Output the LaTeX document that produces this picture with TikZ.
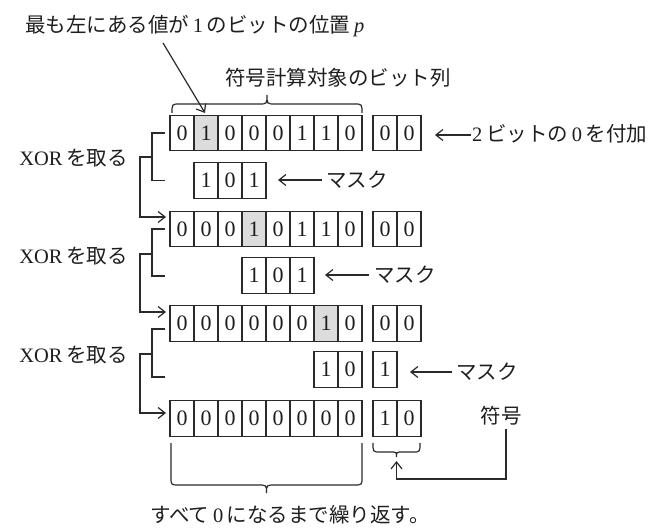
\documentclass[tikz,border=0pt]{standalone}
\usepackage{fontspec}
\setmainfont{Liberation Serif}
\newfontfamily\cjk{Noto Sans CJK JP}
\usetikzlibrary{arrows.meta}
\definecolor{linec}{HTML}{2A2A2A}
\definecolor{txtc}{HTML}{1E1E1E}
\definecolor{shadec}{HTML}{DCDCDC}
\newcommand\tf{\fontsize{20.5}{24}\selectfont}
\newcommand\ks{\hspace{0.18em}}
\begin{document}
\begin{tikzpicture}[x=1pt,y=-1pt,
  cell/.style={draw=linec, line width=1.2pt, minimum width=24pt, minimum height=35.5pt,
    inner sep=0pt, font=\fontsize{22}{22}\selectfont, text=txtc},
  hl/.style={fill=shadec},
  lab/.style={inner sep=0pt, font=\tf, text=txtc},
  ln/.style={draw=linec, line width=1.2pt},
  arr/.style={ln, -{Straight Barb[length=7pt,width=11pt,line width=1.2pt]}},
]
\useasboundingbox (0,0) rectangle (667,529);

% ---- rows of bits
\foreach \v/\s [count=\i from 0] in {0/,1/hl,0/,0/,0/,1/,1/,0/}
  \node[cell,\s] (r1c\i) at ({182+24*\i},133) {\v};
\node[cell] (r1e0) at (385,133) {0};
\node[cell] (r1e1) at (409,133) {0};

\node[cell] (m1c1) at (206,180.5) {1};
\node[cell] (m1c2) at (230,180.5) {0};
\node[cell] (m1c3) at (254,180.5) {1};

\foreach \v/\s [count=\i from 0] in {0/,0/,0/,1/hl,0/,1/,1/,0/}
  \node[cell,\s] (r2c\i) at ({182+24*\i},229) {\v};
\node[cell] (r2e0) at (385,229) {0};
\node[cell] (r2e1) at (409,229) {0};

\node[cell] (m2c3) at (254,275.5) {1};
\node[cell] (m2c4) at (278,275.5) {0};
\node[cell] (m2c5) at (302,275.5) {1};

\foreach \v/\s [count=\i from 0] in {0/,0/,0/,0/,0/,0/,1/hl,0/}
  \node[cell,\s] (r3c\i) at ({182+24*\i},323.5) {\v};
\node[cell] (r3e0) at (385,323.5) {0};
\node[cell] (r3e1) at (409,323.5) {0};

\node[cell] (m3c6) at (326,369.5) {1};
\node[cell] (m3c7) at (350,369.5) {0};
\node[cell] (m3e0) at (385,369.5) {1};

\foreach \v [count=\i from 0] in {0,0,0,0,0,0,0,0}
  \node[cell] (r4c\i) at ({182+24*\i},418.5) {\v};
\node[cell] (r4e0) at (385,418.5) {1};
\node[cell] (r4e1) at (409,418.5) {0};

% ---- texts
\node[lab,anchor=west] (ptext) at (25,26)
  {{\cjk 最も左にある値が}\ks 1\ks{\cjk のビットの位置}\ks\textit{p}};
\node[lab,anchor=west] (btext) at (225,78) {\cjk 符号計算対象のビット列};
\node[lab,anchor=east] (xor1) at (128,158) {XOR\ks{\cjk を取る}};
\node[lab,anchor=east] (xor2) at (128,256) {XOR\ks{\cjk を取る}};
\node[lab,anchor=east] (xor3) at (128,355) {XOR\ks{\cjk を取る}};
\node[lab,anchor=west] (apptext) at (472,134) {2\ks{\cjk ビットの}\ks 0\ks{\cjk を付加}};
\node[lab,anchor=west] (mask1) at (326,180) {\cjk マスク};
\node[lab,anchor=west] (mask2) at (374,275) {\cjk マスク};
\node[lab,anchor=west] (mask3) at (456,372) {\cjk マスク};
\node[lab] (fugo) at (501,416) {\cjk 符号};
\node[lab] (rtext) at (290,515) {{\cjk すべて}\ks 0\ks{\cjk になるまで繰り返す。}};

% ---- pointer to leftmost 1
\coordinate (pst) at (163,43);
\coordinate (ptip) at (205,113);
\draw[arr] (pst) -- (ptip);

% ---- braces
\draw[ln] (172,113) .. controls (172,104) .. (180,104) -- (259,104)
  .. controls (267,104) .. (267,95) .. controls (267,104) .. (275,104)
  -- (354,104) .. controls (362,104) .. (362,113);
\draw[ln] (171,443) -- (171,477) .. controls (171,485) .. (179,485) -- (258,485)
  .. controls (266.5,485) .. (266.5,493) .. controls (266.5,485) .. (275,485)
  -- (354,485) .. controls (362,485) .. (362,477) -- (362,443);
\draw[ln] (373,443) .. controls (373,452) .. (380,452) -- (390,452)
  .. controls (396.5,452) .. (396.5,457) .. controls (396.5,452) .. (403,452)
  -- (413,452) .. controls (420,452) .. (420,443);

% ---- label arrows
\coordinate (t1) at (435,135);
\draw[arr] (apptext.west) ++(-1.5,1) coordinate (a1s) (a1s) -- (t1);
\coordinate (t2) at (278,180);
\coordinate (s2) at (322,180);
\draw[arr] (s2) -- (t2);
\coordinate (t3) at (325,275);
\coordinate (s3) at (369,275);
\draw[arr] (s3) -- (t3);
\coordinate (t4) at (410,372);
\coordinate (s4) at (452,372);
\draw[arr] (s4) -- (t4);

% ---- code arrow
\coordinate (fs) at (506,429);
\coordinate (fc) at (506,479);
\coordinate (sbt) at (396.5,461);
\draw[arr] (fs) -- (fc) -| (sbt);

% ---- XOR brackets
\coordinate (b1x) at (152,157);
\coordinate (s1) at (140,157);
\coordinate (in2) at (166,217);
\draw[ln] (165,133) -| (b1x) |- (165,180.5);
\draw[arr] (b1x) -- (s1) |- (in2);

\coordinate (b2x) at (152,254);
\coordinate (s2b) at (140,254);
\coordinate (in3) at (166,312);
\draw[ln] (165,229) -| (b2x) |- (165,276);
\draw[arr] (b2x) -- (s2b) |- (in3);

\coordinate (b3x) at (152,354);
\coordinate (s3b) at (140,354);
\coordinate (in4) at (166,413);
\draw[ln] (165,329) -| (b3x) |- (165,377);
\draw[arr] (b3x) -- (s3b) |- (in4);
\end{tikzpicture}
\end{document}
